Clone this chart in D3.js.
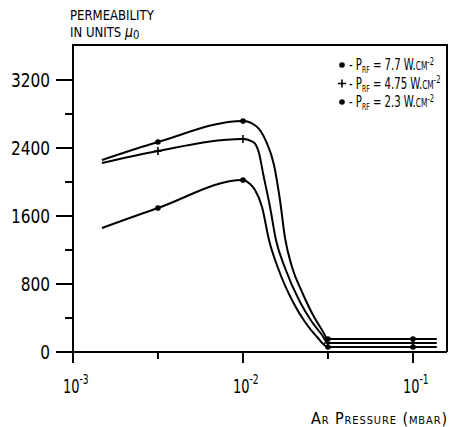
<!DOCTYPE html>
<html>
<head>
<meta charset="utf-8">
<script src="https://cdn.jsdelivr.net/npm/d3@7"></script>
<style>
  body { margin: 0; background: #fff; }
  text { font-family: "Liberation Sans Narrow", "DejaVu Sans Condensed", "Arial Narrow", sans-serif; fill: #000; }
</style>
</head>
<body>
<script>
'use strict';

// values
const pressure77 = [0.00148, 0.00316, 0.01, 0.01193, 0.01365, 0.01522, 0.0165, 0.01767, 0.01942, 0.02224, 0.02581, 0.02915, 0.0316, 0.1, 0.138];
const perm77     = [2259, 2471, 2718, 2659, 2482, 2200, 1788, 1341, 1000, 706, 435, 259, 153, 153, 153];

const pressure475 = [0.00148, 0.00316, 0.01, 0.01145, 0.01242, 0.01311, 0.01442, 0.01563, 0.01767, 0.02164, 0.02546, 0.02915, 0.0316, 0.1, 0.138];
const perm475     = [2224, 2365, 2506, 2471, 2341, 2106, 1706, 1318, 988, 588, 353, 200, 106, 106, 106];

const pressure23 = [0.00148, 0.00316, 0.01, 0.011, 0.01177, 0.01294, 0.01422, 0.01606, 0.01968, 0.02316, 0.02725, 0.0316, 0.1, 0.138];
const perm23     = [1459, 1694, 2024, 1976, 1906, 1706, 1318, 988, 588, 353, 176, 59, 59, 59];

const markerPressures = [0.00316, 0.01, 0.0316, 0.1];

const seriesNames = ['7.7', '4.75', '2.3'];
const seriesMarks = ['dot', 'plus', 'dot'];

const yTicks = [0, 800, 1600, 2400, 3200];
const yMinor = [400, 1200, 2000, 2800];
const xTicks = [1e-3, 1e-2, 1e-1];
const xTickExp = ['-3', '-2', '-1'];
const xMinor = [0.00316, 0.0316];

const W = 459, H = 427;
const frame = { left: 73, right: 447, top: 45, bottom: 352 };

const svg = d3.select('body').append('svg')
  .attr('width', W)
  .attr('height', H);

const x = d3.scaleLog()
  .domain([1e-3, Math.pow(10, -0.8)])
  .range([frame.left, frame.right]);

const y = d3.scaleLinear()
  .domain([0, 3200])
  .range([frame.bottom, 80]);

// frame
svg.append('path')
  .attr('d', `M${frame.left},${frame.bottom} V${frame.top} H${frame.right} V${frame.bottom}`)
  .attr('fill', 'none')
  .attr('stroke', '#000')
  .attr('stroke-width', 2);

// y axis
const yAxis = svg.append('g').attr('transform', `translate(${frame.left},0)`);
yAxis.selectAll('line.major').data(yTicks).enter().append('line')
  .attr('x1', -17).attr('x2', 0)
  .attr('y1', d => y(d)).attr('y2', d => y(d))
  .attr('stroke', '#000').attr('stroke-width', 2);
yAxis.selectAll('line.minor').data(yMinor).enter().append('line')
  .attr('x1', -8).attr('x2', 0)
  .attr('y1', d => y(d)).attr('y2', d => y(d))
  .attr('stroke', '#000').attr('stroke-width', 2);
yAxis.selectAll('text').data(yTicks).enter().append('text')
  .attr('transform', d => `translate(-23,${y(d) + 7}) scale(0.95,1.1)`)
  .attr('text-anchor', 'end')
  .attr('font-size', 18)
  .text(d => d);

// x axis
svg.append('line')
  .attr('x1', frame.left).attr('x2', frame.right)
  .attr('y1', frame.bottom).attr('y2', frame.bottom)
  .attr('stroke', '#000').attr('stroke-width', 2);
const xAxis = svg.append('g').attr('transform', `translate(0,${frame.bottom})`);
xAxis.selectAll('line.major').data(xTicks).enter().append('line')
  .attr('x1', d => x(d)).attr('x2', d => x(d))
  .attr('y1', 0).attr('y2', 11)
  .attr('stroke', '#000').attr('stroke-width', 2);
xAxis.selectAll('line.minor').data(xMinor).enter().append('line')
  .attr('x1', d => x(d)).attr('x2', d => x(d))
  .attr('y1', 0).attr('y2', 7)
  .attr('stroke', '#000').attr('stroke-width', 2);
const xl = xAxis.selectAll('text').data(xTicks).enter().append('text')
  .attr('transform', d => `translate(${x(d) - 10},41) scale(0.85,1.15)`)
  .attr('font-size', 17);
xl.append('tspan').text('10');
xl.append('tspan')
  .attr('dy', -8)
  .attr('font-size', 12)
  .text((d, i) => xTickExp[i]);

// axis titles
svg.append('text')
  .attr('transform', 'translate(70,20) scale(0.93,1)')
  .attr('font-size', 14)
  .text('PERMEABILITY');
const yt = svg.append('text')
  .attr('transform', 'translate(70,37) scale(0.93,1)')
  .attr('font-size', 14);
yt.append('tspan').text('IN UNITS ');
yt.append('tspan').attr('font-size', 15).attr('font-style', 'italic').text('μ');
yt.append('tspan').attr('dy', 2).attr('font-size', 12).text('0');

svg.append('text')
  .attr('x', 448).attr('y', 424)
  .attr('text-anchor', 'end')
  .attr('font-size', 16)
  .style('font-variant', 'small-caps')
  .style('letter-spacing', '0.9px')
  .text('Ar Pressure (mbar)');

// curves
const series = [
  { p: pressure77, v: perm77 },
  { p: pressure475, v: perm475 },
  { p: pressure23, v: perm23 },
];

const line = d3.line()
  .x(d => x(d[0]))
  .y(d => y(d[1]))
  .curve(d3.curveMonotoneX);

series.forEach((s, k) => {
  const pts = s.p.map((p, i) => [p, s.v[i]]);
  svg.append('path')
    .datum(pts)
    .attr('d', line)
    .attr('fill', 'none')
    .attr('stroke', '#000')
    .attr('stroke-width', 2);

  const marks = pts.filter(d => markerPressures.some(m => Math.abs(m - d[0]) < 1e-6));
  if (seriesMarks[k] === 'dot') {
    svg.selectAll(null).data(marks).enter().append('circle')
      .attr('cx', d => x(d[0])).attr('cy', d => y(d[1]))
      .attr('r', 2.8).attr('fill', '#000');
  } else {
    svg.selectAll(null).data(marks).enter().append('path')
      .attr('d', d => `M${x(d[0]) - 4},${y(d[1])} h8 M${x(d[0])},${y(d[1]) - 4} v8`)
      .attr('stroke', '#000').attr('stroke-width', 1.6);
  }
});

// legend
const legend = svg.append('g');
seriesNames.forEach((name, i) => {
  const ly = 70 + i * 18.5;
  if (seriesMarks[i] === 'dot') {
    legend.append('circle').attr('cx', 342).attr('cy', ly - 5).attr('r', 2.8).attr('fill', '#000');
  } else {
    legend.append('path')
      .attr('d', `M338,${ly - 5} h8 M342,${ly - 9} v8`)
      .attr('stroke', '#000').attr('stroke-width', 1.6);
  }
  const t = legend.append('text')
    .attr('transform', `translate(349,${ly}) scale(0.75,1.05)`)
    .attr('font-size', 15);
  t.append('tspan').text('- P');
  t.append('tspan').attr('dy', 3).attr('font-size', 9).text('RF');
  t.append('tspan').attr('dy', -3).text(` = ${name} `);
  t.append('tspan').style('font-variant', 'small-caps').text('W.cm');
  t.append('tspan').attr('dy', -5).attr('font-size', 10).text('-2');
});
</script>
</body>
</html>
